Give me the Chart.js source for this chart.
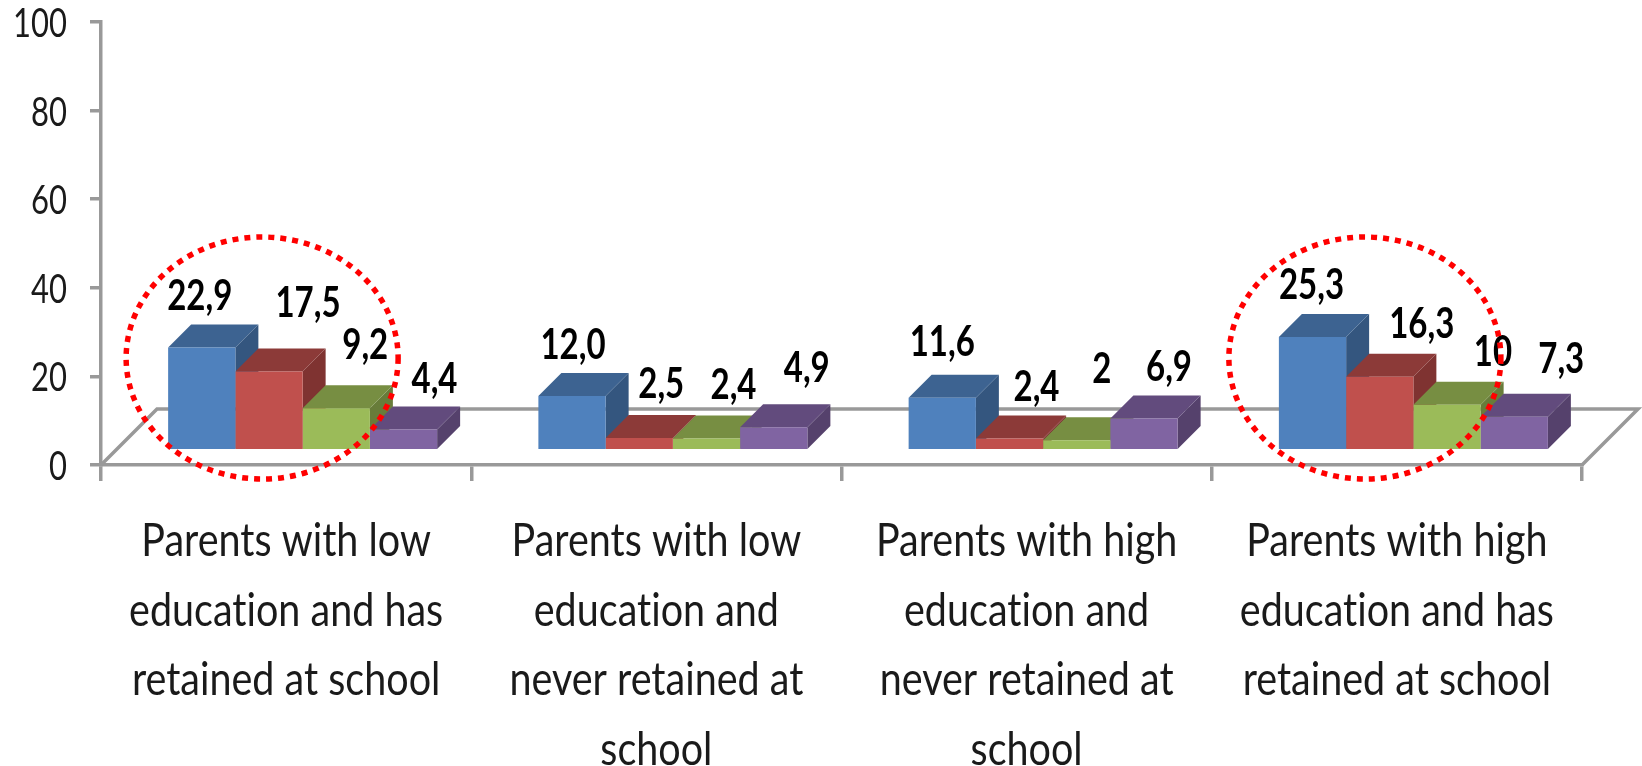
<!DOCTYPE html>
<html>
<head>
<meta charset="utf-8">
<style>
  html, body { margin: 0; padding: 0; background: #fff; }
  canvas { display: block; filter: blur(0.7px); }
</style>
<script src="https://cdn.jsdelivr.net/npm/chart.js@4"></script>
</head>
<body>
<canvas id="chart" width="1642" height="766"></canvas>
<script>
// Chart data
const categories = [
    ['Parents with low', 'education and has', 'retained at school'],
    ['Parents with low', 'education and', 'never retained at', 'school'],
    ['Parents with high', 'education and', 'never retained at', 'school'],
    ['Parents with high', 'education and has', 'retained at school']
];
const blueValues = [22.9, 12.0, 11.6, 25.3];
const redValues = [17.5, 2.5, 2.4, 16.3];
const greenValues = [9.2, 2.4, 2.0, 10.0];
const purpleValues = [4.4, 4.9, 6.9, 7.3];
const blueLabels = ['22,9', '12,0', '11,6', '25,3'];
const redLabels = ['17,5', '2,5', '2,4', '16,3'];
const greenLabels = ['9,2', '2,4', '2', '10'];
const purpleLabels = ['4,4', '4,9', '6,9', '7,3'];
const yTicks = [0, 20, 40, 60, 80, 100];

// Which categories get the dotted red ring
const circledCategories = [0, 3];

const FONT = 'Lato, sans-serif';
const CATEGORY_FONT_SIZE = 39.5;
const AXIS_GREY = '#999999';
const DEPTH = 23;       // 3D depth of a bar
const FLOOR_DEPTH = 56; // 3D depth of the floor
const BAR_SHIFT = 16.5; // bars sit slightly to the right of the category centre
const FLOOR_VALUE = 3.6; // bars stand this far up the value axis

// Label nudge from the top centre of each bar [dx, dy]
const labelNudges = [
    [[-2, -53], [1, -53], [0, -57], [-1, -54]],
    [[39, -70], [22, -56], [27, -53], [42, -55]],
    [[29, -65], [27, -55], [25, -73], [46, -55]],
    [[31, -52], [33, -61], [25, -53], [47, -60]]
];

const seriesStyles = [
    { front: '#4f81bd', top: '#3d6391', side: '#34567f' },
    { front: '#c0504d', top: '#8c3a38', side: '#7f3331' },
    { front: '#9bbb59', top: '#778e42', side: '#687c3a' },
    { front: '#8064a2', top: '#624b7d', side: '#55416c' }
];
const seriesValues = [blueValues, redValues, greenValues, purpleValues];
const seriesLabels = [blueLabels, redLabels, greenLabels, purpleLabels];

function polygon(ctx, points, color) {
    ctx.fillStyle = color;
    ctx.beginPath();
    points.forEach((p, i) => i ? ctx.lineTo(p[0], p[1]) : ctx.moveTo(p[0], p[1]));
    ctx.closePath();
    ctx.fill();
}

const bars3d = {
    id: 'bars3d',
    beforeDatasetsDraw(chart) {
        const ctx = chart.ctx;
        const { left, right, bottom } = chart.chartArea;

        // Floor outline
        ctx.save();
        ctx.strokeStyle = AXIS_GREY;
        ctx.lineWidth = 3.5;
        ctx.beginPath();
        ctx.moveTo(left, bottom);
        ctx.lineTo(left + FLOOR_DEPTH, bottom - FLOOR_DEPTH);
        ctx.lineTo(right + FLOOR_DEPTH, bottom - FLOOR_DEPTH);
        ctx.lineTo(right, bottom);
        ctx.stroke();
        ctx.restore();

        // Stays translated until afterDatasetsDraw so the fronts line up
        ctx.save();
        ctx.translate(BAR_SHIFT, 0);
        categories.forEach((_, g) => {
            seriesStyles.forEach((style, s) => {
                const bar = chart.getDatasetMeta(s).data[g];
                const x0 = bar.x - bar.width / 2;
                const x1 = bar.x + bar.width / 2;
                polygon(ctx, [[x1, bar.y], [x1 + DEPTH, bar.y - DEPTH], [x1 + DEPTH, bar.base - DEPTH], [x1, bar.base]], style.side);
                polygon(ctx, [[x0, bar.y], [x0 + DEPTH, bar.y - DEPTH], [x1 + DEPTH, bar.y - DEPTH], [x1, bar.y]], style.top);
            });
        });
    },
    afterDatasetsDraw(chart) {
        chart.ctx.restore();
    },
    afterDraw(chart) {
        const ctx = chart.ctx;

        // Value labels
        ctx.save();
        ctx.font = 'bold 33px ' + FONT;
        ctx.fillStyle = '#000';
        ctx.textAlign = 'center';
        ctx.textBaseline = 'middle';
        seriesLabels.forEach((labels, s) => {
            labels.forEach((text, g) => {
                const bar = chart.getDatasetMeta(s).data[g];
                const nudge = labelNudges[s][g];
                ctx.fillText(text, bar.x + BAR_SHIFT + nudge[0], bar.y + nudge[1]);
            });
        });
        ctx.restore();

        // Dotted rings
        ctx.save();
        ctx.strokeStyle = '#ff0000';
        ctx.lineWidth = 5.5;
        ctx.setLineDash([6, 6]);
        circledCategories.forEach(g => {
            const cx = chart.scales.x.getPixelForValue(g) + (g === 0 ? -24 : -32);
            ctx.beginPath();
            ctx.ellipse(cx, 358, 136, 121, 0, 0, Math.PI * 2);
            ctx.stroke();
        });
        ctx.restore();
    }
};

const chartCanvas = document.getElementById('chart');

// Reference text is taller than it is wide, so stretch every run vertically about its anchor
const canvasCtx = chartCanvas.getContext('2d');
const plainFillText = canvasCtx.fillText.bind(canvasCtx);
canvasCtx.fillText = function (text, x, y) {
    const isCategory = canvasCtx.font.includes(CATEGORY_FONT_SIZE + 'px');
    canvasCtx.save();
    canvasCtx.textRendering = 'optimizeSpeed'; // no "ti" ligature
    canvasCtx.translate(x, isCategory ? y : y + 2);
    canvasCtx.scale(1, isCategory ? 1.15 : 1.3);
    plainFillText(text, 0, 0);
    canvasCtx.restore();
};

new Chart(chartCanvas, {
    type: 'bar',
    data: {
        labels: categories,
        datasets: seriesValues.map((values, s) => ({
            data: values,
            yAxisID: 'yBars',
            backgroundColor: seriesStyles[s].front,
            borderWidth: 0,
            clip: false,
            categoryPercentage: 0.7265,
            barPercentage: 1
        }))
    },
    options: {
        responsive: false,
        animation: false,
        layout: { autoPadding: false, padding: { top: 22, right: 60, left: 0, bottom: 0 } },
        plugins: {
            legend: { display: false },
            tooltip: { enabled: false }
        },
        scales: {
            x: {
                offset: true,
                afterFit(scale) { scale.height = 301; },
                border: { color: AXIS_GREY, width: 3.5 },
                grid: { offset: true, drawOnChartArea: false, color: AXIS_GREY, lineWidth: 3.5, tickLength: 16 },
                ticks: {
                    color: '#1a1a1a',
                    padding: 26,
                    maxRotation: 0,
                    autoSkip: false,
                    font: { family: FONT, size: CATEGORY_FONT_SIZE, lineHeight: 1.76 }
                }
            },
            y: {
                position: 'left',
                min: yTicks[0],
                max: yTicks[yTicks.length - 1],
                afterFit(scale) {
                    scale.width = 101;
                    scale.paddingTop = 0;
                    scale.paddingBottom = 0;
                },
                afterBuildTicks(scale) { scale.ticks = yTicks.map(v => ({ value: v })); },
                border: { color: AXIS_GREY, width: 3.5 },
                grid: { drawOnChartArea: false, color: AXIS_GREY, lineWidth: 3.5, tickLength: 11 },
                ticks: {
                    color: '#1a1a1a',
                    padding: 23,
                    font: { family: FONT, size: 31 }
                }
            },
            // Same pixel scale as y, but zero is lifted up to the floor of the 3D box
            yBars: {
                display: false,
                min: -FLOOR_VALUE,
                max: yTicks[yTicks.length - 1] - FLOOR_VALUE
            }
        }
    },
    plugins: [bars3d]
});
</script>
</body>
</html>
